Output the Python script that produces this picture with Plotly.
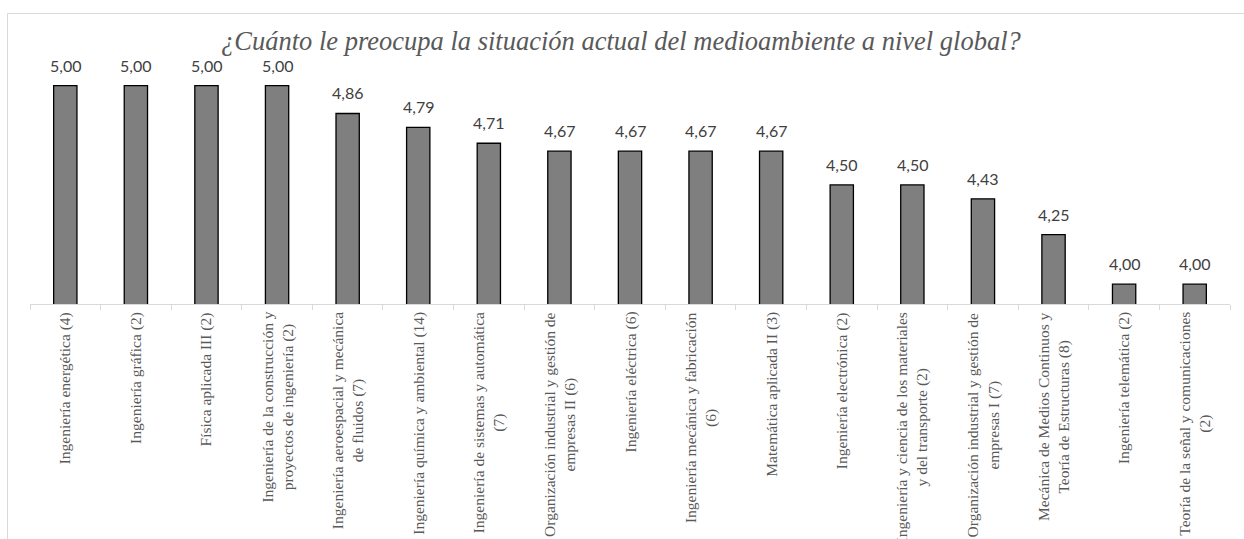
import plotly.graph_objects as go

categories = [
    "Ingeniería energética (4)",
    "Ingeniería gráfica (2)",
    "Física aplicada III (2)",
    "Ingeniería de la construcción y<br>proyectos de ingeniería (2)",
    "Ingeniería aeroespacial y mecánica<br>de fluidos (7)",
    "Ingeniería química y ambiental (14)",
    "Ingeniería de sistemas y automática<br>(7)",
    "Organización industrial y gestión de<br>empresas II (6)",
    "Ingeniería eléctrica (6)",
    "Ingeniería mecánica y fabricación<br>(6)",
    "Matemática aplicada II (3)",
    "Ingeniería electrónica (2)",
    "Ingeniería y ciencia de los materiales<br>y del transporte (2)",
    "Organización industrial y gestión de<br>empresas I (7)",
    "Mecánica de Medios Continuos y<br>Teoría de Estructuras (8)",
    "Ingeniería telemática (2)",
    "Teoría de la señal y comunicaciones<br>(2)",
]
values = [5.00, 5.00, 5.00, 5.00, 4.86, 4.79, 4.71, 4.67, 4.67, 4.67, 4.67,
          4.50, 4.50, 4.43, 4.25, 4.00, 4.00]
value_labels = [f"{v:.2f}".replace(".", ",") for v in values]
title_text = "¿Cuánto le preocupa la situación actual del medioambiente a nivel global?"

SERIF = "Liberation Serif"

fig = go.Figure()
fig.add_trace(go.Bar(
    x=categories, y=values, width=0.33,
    marker=dict(color="#7f7f7f", line=dict(color="#000000", width=1.3)),
    hoverinfo="x+y",
))

annotations = []
for c, lab, v in zip(categories, value_labels, values):
    annotations.append(dict(
        x=c, y=v, xref="x", yref="y", text=lab, showarrow=False,
        yanchor="bottom", yshift=9,
        font=dict(family="Lato", size=16, color="#404040"),
    ))
    annotations.append(dict(
        x=c, y=0, xref="x", yref="paper", text=c, showarrow=False,
        textangle=-90, yanchor="top", xanchor="center", align="center", yshift=-6,
        font=dict(family=SERIF, size=15.5, color="#595959"),
    ))

# chart title (as annotation so the serif italic face is used)
annotations.append(dict(
    x=(621 - 30) / 1200, y=1 + (46 - 41) / 258, xref="paper", yref="paper",
    xanchor="center", yanchor="middle", showarrow=False, text=title_text,
    font=dict(family=SERIF, size=26.5, color="#595959", style="italic"),
))

fig.update_layout(
    width=1244, height=539,
    margin=dict(l=30, r=14, t=46, b=235),
    paper_bgcolor="white", plot_bgcolor="white",
    showlegend=False,
    xaxis=dict(
        type="category", showline=True, linecolor="#d9d9d9", linewidth=1,
        ticks="outside", tickson="boundaries", ticklen=5, tickcolor="#d9d9d9",
        showticklabels=False, showgrid=False, zeroline=False,
    ),
    yaxis=dict(range=[3.9, 5.2], visible=False, showgrid=False, zeroline=False),
    annotations=annotations,
    shapes=[dict(
        type="rect", xref="paper", yref="paper",
        x0=(7.5 - 30) / 1200, x1=1.1, y0=-2, y1=1 + (46 - 13.5) / 258,
        line=dict(color="#d9d9d9", width=1), fillcolor="rgba(0,0,0,0)", layer="below",
    )],
)

fig.write_html("out.html")
